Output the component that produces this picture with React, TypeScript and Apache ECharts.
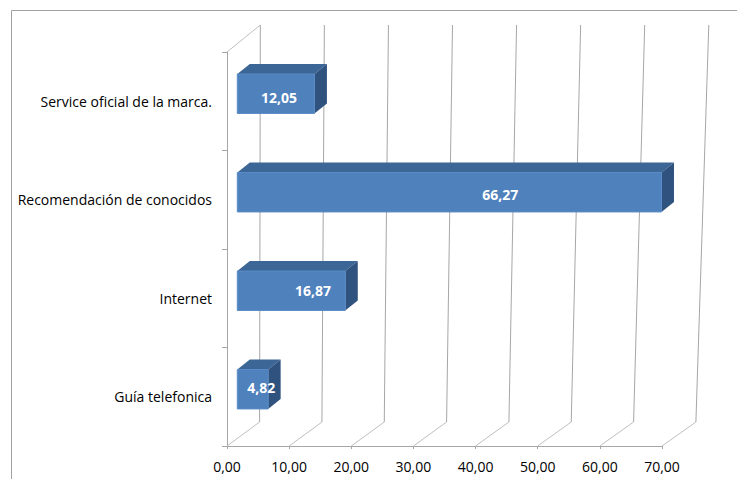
import React, { useEffect, useRef } from "react";
import * as echarts from "echarts";

const categories = [
  "Guía telefonica",
  "Internet",
  "Recomendación de conocidos",
  "Service oficial de la marca.",
];
const values = [4.82, 16.87, 66.27, 12.05];
const xTicks = [0, 10, 20, 30, 40, 50, 60, 70];
const X_MIN = 0;
const X_MAX = 70;
const X_STEP = 10;

const fmt = (v: number) => v.toFixed(2).replace(".", ",");

export default function App() {
  const ref = useRef<HTMLDivElement>(null);

  useEffect(() => {
    document.body.style.margin = "0";
    const chart = echarts.init(ref.current!, null, { renderer: "svg" });
    const FONT = "'Open Sans', 'Noto Sans', sans-serif";
    const gridLineColor = "#A6A6A6";
    const floorColor = "#BFBFBF";

    const wallItem = (params: any, api: any) => {
      const cs = params.coordSys;
      const v = api.value(0);
      const x0 = api.coord([X_MIN, 0])[0];
      const s = (api.coord([X_MAX, 0])[0] - x0) / (X_MAX - X_MIN);
      const fx = api.coord([v, 0])[0];
      const yb = cs.y + cs.height;
      const yt = cs.y;
      const bbx = x0 + 32.6 + v * s * 1.003;
      const bby = yb - 24;
      const btx = x0 + 33.3 + v * s * 1.031;
      const bty = yt - 27;
      const children: any[] = [
        {
          type: "line",
          shape: { x1: fx, y1: yb, x2: bbx, y2: bby },
          style: { stroke: floorColor, lineWidth: 1 },
        },
        {
          type: "line",
          shape: { x1: bbx, y1: bby, x2: btx, y2: bty },
          style: { stroke: gridLineColor, lineWidth: 1 },
        },
      ];
      if (v === X_MIN) {
        children.push({
          type: "line",
          shape: { x1: x0, y1: yt, x2: btx, y2: bty },
          style: { stroke: floorColor, lineWidth: 1 },
        });
      }
      return { type: "group", children };
    };

    const barItem = (params: any, api: any) => {
      const v = api.value(0);
      const idx = api.value(1);
      const base = api.coord([X_MIN, idx]);
      const s = (api.coord([X_MAX, idx])[0] - base[0]) / (X_MAX - X_MIN);
      const band = api.size([0, 1])[1];
      const bx0 = base[0] + 10.3;
      const len = v * s * 1.03;
      const bx1 = bx0 + len;
      const cy = base[1] - 7.5;
      const h = band * 0.4;
      const ft = cy - h / 2;
      const fb = cy + h / 2;
      const dx = 12.5;
      const dy = -10;
      const lx = bx0 + (0.78 - 0.08 * idx) * len;
      const ly = cy + (-1.5 + 1.7 * idx);
      return {
        type: "group",
        children: [
          {
            type: "polygon",
            shape: {
              points: [
                [bx0, ft],
                [bx1, ft],
                [bx1 + dx, ft + dy],
                [bx0 + dx, ft + dy],
              ],
            },
            style: { fill: "#3C6695" },
          },
          {
            type: "polygon",
            shape: {
              points: [
                [bx1, ft],
                [bx1 + dx, ft + dy],
                [bx1 + dx, fb + dy],
                [bx1, fb],
              ],
            },
            style: { fill: "#30527F" },
          },
          {
            type: "rect",
            shape: { x: bx0, y: ft, width: len, height: h },
            style: { fill: "#4F81BD", stroke: "#5A8BC7", lineWidth: 1 },
          },
          {
            type: "text",
            style: {
              text: fmt(v),
              x: lx,
              y: ly,
              fill: "#FFFFFF",
              fontFamily: FONT,
              fontSize: 14,
              fontWeight: "bold",
              align: "center",
              verticalAlign: "middle",
            },
          },
        ],
      };
    };

    chart.setOption({
      animation: false,
      backgroundColor: "#FFFFFF",
      grid: { left: 227, top: 52, width: 435, height: 394 },
      xAxis: {
        type: "value",
        min: X_MIN,
        max: X_MAX,
        interval: X_STEP,
        axisLine: { show: true, lineStyle: { color: gridLineColor } },
        axisTick: { show: true, length: 3, lineStyle: { color: gridLineColor } },
        axisLabel: {
          formatter: (v: number) => fmt(v),
          color: "#000",
          fontFamily: FONT,
          fontSize: 14,
          margin: 13,
        },
        splitLine: { show: false },
      },
      yAxis: {
        type: "category",
        data: categories,
        axisLine: { show: true, lineStyle: { color: gridLineColor } },
        axisTick: { show: true, length: 5, lineStyle: { color: gridLineColor } },
        axisLabel: {
          color: "#000",
          fontFamily: FONT,
          fontSize: 14,
          margin: 15,
        },
        splitLine: { show: false },
      },
      graphic: [
        {
          type: "line",
          shape: { x1: 11.5, y1: 10.5, x2: 737, y2: 10.5 },
          style: { stroke: "#A0A0A0", lineWidth: 1 },
        },
        {
          type: "line",
          shape: { x1: 11.5, y1: 10.5, x2: 11.5, y2: 479 },
          style: { stroke: "#A0A0A0", lineWidth: 1 },
        },
      ],
      series: [
        {
          type: "custom",
          name: "wall",
          renderItem: wallItem,
          data: xTicks.map((t) => [t, 0]),
          encode: { x: 0, y: 1 },
          silent: true,
          z: 1,
        },
        {
          type: "custom",
          name: "bars",
          renderItem: barItem,
          data: values.map((v, i) => [v, i]),
          encode: { x: 0, y: 1 },
          z: 2,
        },
      ],
    });

    return () => {
      chart.dispose();
    };
  }, []);

  return <div ref={ref} style={{ width: 737, height: 479 }} />;
}
